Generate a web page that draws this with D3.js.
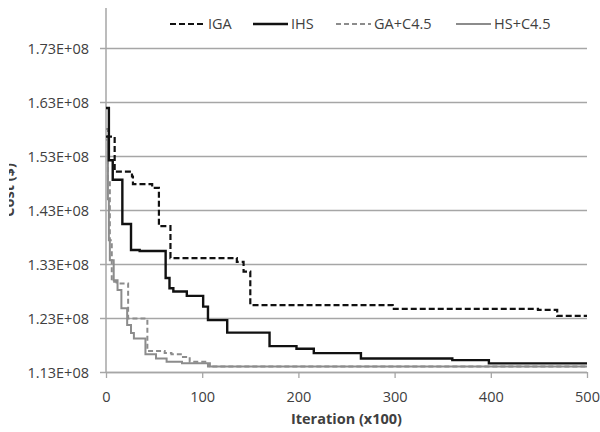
<!DOCTYPE html>
<html>
<head>
<meta charset="utf-8">
<script src="https://cdn.jsdelivr.net/npm/d3@7"></script>
<style>
  html, body { margin: 0; padding: 0; background: #fff; }
  svg { display: block; font-family: "Open Sans", sans-serif; }
</style>
</head>
<body>
<svg id="chart" width="600" height="432"></svg>
<script>
// ---- data (iteration x100, cost $) ----
const seriesNames = ["IGA", "IHS", "GA+C4.5", "HS+C4.5"];
const iga = [[0,1.566e8],[9,1.501e8],[27,1.492e8],[28,1.478e8],[48,1.471e8],[55,1.400e8],[67,1.341e8],[136,1.334e8],[143,1.316e8],[150,1.254e8],[298,1.247e8],[449,1.245e8],[469,1.234e8],[500,1.234e8]];
const ihs = [[0,1.619e8],[3,1.522e8],[7,1.486e8],[17,1.404e8],[26,1.356e8],[35,1.354e8],[62,1.304e8],[66,1.285e8],[70,1.279e8],[84,1.271e8],[101,1.251e8],[106,1.226e8],[126,1.203e8],[170,1.178e8],[198,1.173e8],[216,1.165e8],[265,1.155e8],[360,1.152e8],[398,1.146e8],[500,1.146e8]];
const gaC45 = [[0,1.58e8],[2,1.486e8],[4,1.374e8],[6,1.297e8],[11,1.294e8],[23,1.229e8],[43,1.169e8],[61,1.165e8],[68,1.163e8],[80,1.158e8],[87,1.149e8],[106,1.140e8],[500,1.140e8]];
const hsC45 = [[0,1.56e8],[2,1.45e8],[3,1.374e8],[4,1.337e8],[8,1.300e8],[12,1.282e8],[16,1.248e8],[22,1.217e8],[26,1.202e8],[29,1.192e8],[41,1.163e8],[52,1.155e8],[63,1.149e8],[79,1.146e8],[108,1.140e8],[500,1.140e8]];
const yTicks = [1.13e8, 1.23e8, 1.33e8, 1.43e8, 1.53e8, 1.63e8, 1.73e8];
const xTicks = [0, 100, 200, 300, 400, 500];
const xTitle = "Iteration (x100)";
const yTitle = "Cost ($)";

// ---- layout ----
const svg = d3.select("#chart");
const L = 106, R = 587, T = 8, B = 372;
const x = d3.scaleLinear().domain([0, 500]).range([L, R]);
const y = d3.scaleLinear().domain([1.13e8, 1.13e8 + (B - T) / 54 * 1e7]).range([B, T]);
const gridCol = "#a6a6a6";
const textCol = "#404040";

// gridlines + y labels
const fmt = v => (v / 1e8).toFixed(2) + "E+08";
const yAxis = d3.axisLeft(y).tickValues(yTicks).tickSize(-(R - L + 6)).tickFormat(fmt).tickPadding(0);
const gy = svg.append("g").attr("transform", `translate(${L - 6},0)`).call(yAxis);
gy.select(".domain").remove();
gy.selectAll(".tick line").attr("stroke", gridCol).attr("stroke-width", 1.3)
  .attr("x1", 0).attr("x2", R - L + 6);
gy.selectAll(".tick text").attr("x", -11).attr("dy", "0.36em").attr("fill", textCol)
  .style("font-size", "14.5px").style("font-family", "'Open Sans', sans-serif");

// y axis line
svg.append("line").attr("x1", L).attr("x2", L).attr("y1", T).attr("y2", B)
  .attr("stroke", gridCol).attr("stroke-width", 1.5);

// x axis
const xAxis = d3.axisBottom(x).tickValues(xTicks).tickSize(6).tickPadding(14).tickFormat(d3.format("d"));
const gx = svg.append("g").attr("transform", `translate(0,${B})`).call(xAxis);
gx.select(".domain").attr("stroke", gridCol).attr("stroke-width", 1.3).attr("d", `M${L},0.5H${R}`);
gx.selectAll(".tick line").attr("stroke", gridCol).attr("stroke-width", 1.3);
gx.selectAll(".tick text").attr("fill", textCol)
  .style("font-size", "14.5px").style("font-family", "'Open Sans', sans-serif");

// series
const line = d3.line().x(d => x(d[0])).y(d => y(d[1])).curve(d3.curveStepAfter);
const styles = [
  { data: iga,   color: "#111", dash: "6,3", w: 2.2 },
  { data: ihs,   color: "#111", dash: null,  w: 2.4 },
  { data: gaC45, color: "#8c8c8c", dash: "5,3", w: 2 },
  { data: hsC45, color: "#8c8c8c", dash: null,  w: 2 }
];
[3, 2, 1, 0].forEach(i => {
  const s = styles[i];
  svg.append("path").datum(s.data).attr("d", line).attr("fill", "none")
    .attr("stroke", s.color).attr("stroke-width", s.w)
    .attr("stroke-dasharray", s.dash).attr("stroke-linejoin", "miter");
});

// legend
const legX = [170, 253, 336, 456];
const lg = svg.append("g");
seriesNames.forEach((n, i) => {
  const s = styles[i];
  lg.append("line").attr("x1", legX[i]).attr("x2", legX[i] + 35).attr("y1", 24).attr("y2", 24)
    .attr("stroke", s.color).attr("stroke-width", s.w).attr("stroke-dasharray", s.dash);
  lg.append("text").attr("x", legX[i] + 38).attr("y", 24).attr("dy", "0.36em")
    .attr("fill", textCol).style("font-size", "14.5px").text(n);
});

// axis titles
svg.append("text").attr("x", (L + R) / 2).attr("y", 424).attr("text-anchor", "middle")
  .attr("fill", textCol).style("font-size", "14.5px").style("font-weight", "bold").text(xTitle);

svg.append("clipPath").attr("id", "yclip").append("rect").attr("x", 9).attr("y", 0).attr("width", 40).attr("height", 432);
svg.append("g").attr("clip-path", "url(#yclip)")
  .append("text").attr("transform", "translate(14,190) rotate(-90)").attr("text-anchor", "middle")
  .attr("fill", textCol).style("font-size", "14.5px").style("font-weight", "bold").text(yTitle);
</script>
</body>
</html>
